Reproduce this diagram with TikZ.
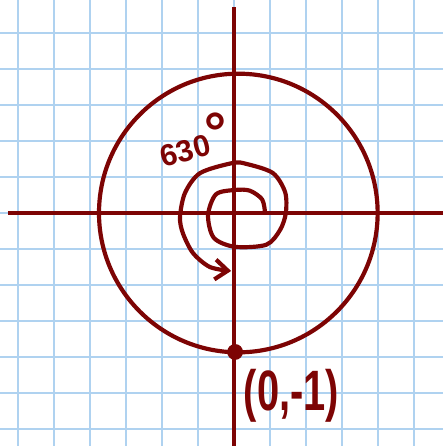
\documentclass[tikz,border=0pt]{standalone}
\usepackage{fontspec}
\setmainfont{Liberation Sans}
\usepackage{xcolor}
\usetikzlibrary{arrows.meta,positioning}
\definecolor{ink}{RGB}{125,4,4}
\definecolor{paper}{RGB}{175,210,240}
\tikzstyle{gridline}=[
paper,
line width=1.1pt
]
\tikzstyle{axis}=[
ink,
line width=3.3pt
]
\tikzstyle{stroke}=[
ink,
line width=3.3pt,
line cap=round
]
\tikzstyle{spiral}=[
stroke,
-{Straight Barb[length=3.5mm,width=5.5mm]}
]
\tikzstyle{hand}=[
ink,
inner sep=0pt
]

\begin{document}
\begin{tikzpicture}

\useasboundingbox (-6.5,-6.472) rectangle (5.806,5.917);
\fill[white] (-6.5,-6.472) rectangle (5.806,5.917);
\draw[gridline] (-6.5,-6.472) grid (5.806,5.917);

% axes
\draw[axis] (-6.28,0) -- (5.806,0);
\draw[axis] (0,5.72) -- (0,-6.472);

% unit circle
\draw[stroke] (0.12,0) circle (3.87);

% 630 degree turn
\draw[spiral] plot[smooth] coordinates {
(0.86,0.03) (0.78,0.38) (0.44,0.62) (0.03,0.64) (-0.5,0.52)
(-0.72,-0.06) (-0.56,-0.69) (0.03,-0.94) (0.9,-0.88) (1.28,-0.47)
(1.44,0) (1.42,0.58) (1.08,1.11) (0.36,1.36) (-0.03,1.39)
(-0.94,1.11) (-1.36,0.56) (-1.5,-0.11) (-1.42,-0.56) (-1.14,-1.11)
(-0.67,-1.5) (-0.08,-1.61)};

\node (angle) [hand, rotate=15, font=\bfseries\fontsize{24}{24}\selectfont] at (-1.12,2.05)
{630\raisebox{0.02em}{\fontsize{44}{44}\selectfont °}};

% the point
\node (pt) [circle, fill=ink, inner sep=0pt, minimum size=0.44cm] at (0.03,-3.86) {};
\node (ptlabel) [hand, below right=0.3cm and 0.08cm of pt, xscale=0.7,
font=\bfseries\fontsize{45}{45}\selectfont] {(0,-1)};

\end{tikzpicture}
\end{document}
